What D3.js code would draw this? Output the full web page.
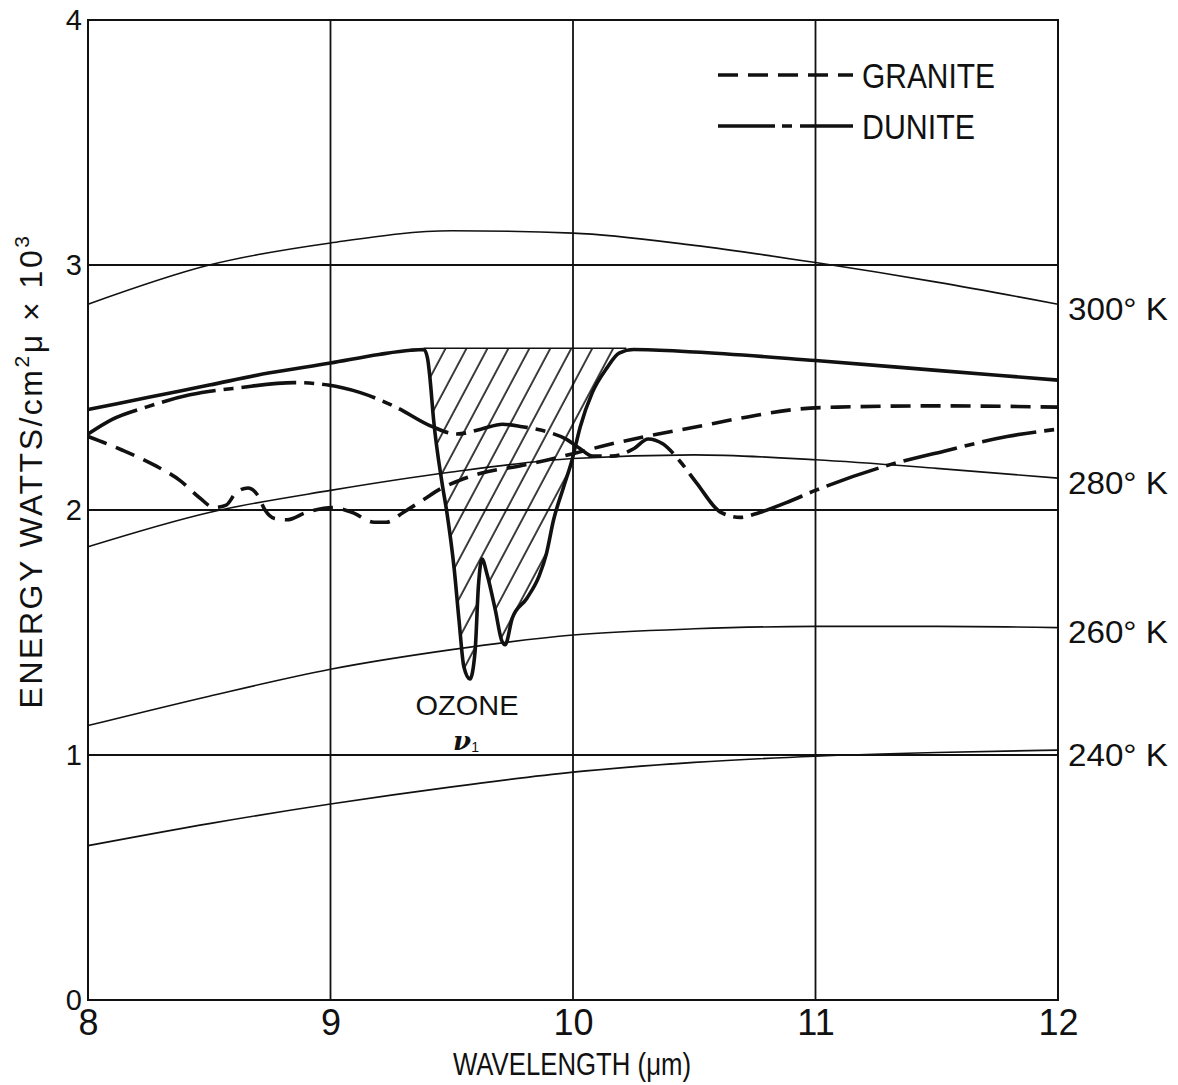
<!DOCTYPE html>
<html lang="en">
<head>
<meta charset="UTF-8">
<title>Energy vs wavelength</title>
<script src="https://cdnjs.cloudflare.com/ajax/libs/d3/7.8.5/d3.min.js"></script>
<style>
    body { margin: 0; background: #fff; }
    svg { display: block; background: #fff; }
    text { font-family: "Liberation Sans", Arial, sans-serif; fill: #111; }
</style>
</head>
<body>
<div class="chart"></div>
<script>
// blackbody curves
const bbWave = [8.0, 8.5, 9.0, 9.5, 10.0, 10.5, 11.0, 11.5, 12.0];
const bb300 = [2.84, 3.00, 3.09, 3.14, 3.13, 3.08, 3.01, 2.93, 2.84];
const bb280 = [1.85, 1.99, 2.08, 2.155, 2.21, 2.225, 2.205, 2.17, 2.13];
const bb260 = [1.12, 1.24, 1.35, 1.43, 1.49, 1.515, 1.525, 1.525, 1.52];
const bb240 = [0.63, 0.72, 0.80, 0.87, 0.93, 0.97, 0.995, 1.01, 1.02];
const bbLabels = ['300° K', '280° K', '260° K', '240° K'];

// heavy solid curve with the ozone band
const obsWave = [8.0, 8.25, 8.5, 8.75, 9.0, 9.2, 9.33, 9.385, 9.40, 9.41, 9.425, 9.46, 9.48, 9.51, 9.53, 9.55,
    9.575, 9.596, 9.61, 9.625, 9.645, 9.68, 9.705, 9.72, 9.75, 9.81, 9.86, 9.89, 9.92, 9.96, 9.995,
    10.03, 10.08, 10.14, 10.19, 10.25, 10.5, 11.0, 11.5, 12.0];
const obsVal = [2.41, 2.46, 2.51, 2.56, 2.60, 2.635, 2.652, 2.655, 2.62, 2.54, 2.37, 2.11, 1.99, 1.76, 1.55, 1.36,
    1.31, 1.42, 1.69, 1.80, 1.74, 1.59, 1.47, 1.45, 1.56, 1.64, 1.73, 1.82, 1.96, 2.09, 2.20,
    2.34, 2.48, 2.58, 2.64, 2.655, 2.645, 2.61, 2.57, 2.53];
const ozoneTop = 2.66;
const ozoneRange = [9.385, 10.22];

// granite (dashed)
const graniteWave = [8.0, 8.14, 8.28, 8.38, 8.46, 8.52, 8.57, 8.61, 8.66, 8.70, 8.73, 8.77, 8.82, 8.90, 9.01,
    9.09, 9.18, 9.23, 9.30, 9.38, 9.46, 9.53, 9.62, 9.78, 9.92, 10.0, 10.16, 10.30, 10.51, 10.72,
    10.91, 11.09, 11.5, 12.0];
const graniteVal = [2.30, 2.245, 2.18, 2.12, 2.05, 2.01, 2.02, 2.07, 2.09, 2.06, 2.00, 1.965, 1.96, 1.99, 2.01,
    1.99, 1.95, 1.95, 1.99, 2.04, 2.09, 2.12, 2.15, 2.18, 2.21, 2.23, 2.27, 2.30, 2.34, 2.38,
    2.41, 2.42, 2.425, 2.42];

// dunite (dash-dot)
const duniteWave = [8.0, 8.10, 8.24, 8.42, 8.63, 8.85, 8.99, 9.12, 9.27, 9.42, 9.52, 9.62, 9.71, 9.79, 9.89,
    9.97, 10.03, 10.08, 10.16, 10.25, 10.31, 10.37, 10.44, 10.51, 10.61, 10.69, 10.77, 10.88, 11.0,
    11.29, 11.53, 11.79, 12.0];
const duniteVal = [2.31, 2.37, 2.42, 2.47, 2.50, 2.52, 2.51, 2.48, 2.42, 2.34, 2.31, 2.33, 2.35, 2.34, 2.32,
    2.29, 2.25, 2.22, 2.22, 2.25, 2.29, 2.27, 2.20, 2.11, 1.99, 1.97, 1.99, 2.03, 2.08,
    2.18, 2.24, 2.30, 2.33];

const xTicks = [8, 9, 10, 11, 12];
const yTicks = [0, 1, 2, 3, 4];

const width = 1178, height = 1085;
const plotLeft = 88, plotRight = 1058, plotTop = 20, plotBottom = 1000;

const svg = d3.select('.chart').append('svg').attr('width', width).attr('height', height);

const x = d3.scaleLinear().domain([8, 12]).range([plotLeft, plotRight]);
const y = d3.scaleLinear().domain([0, 4]).range([plotBottom, plotTop]);

const zip = (xs, ys) => xs.map((d, i) => [d, ys[i]]);
const line = d3.line().x(d => x(d[0])).y(d => y(d[1])).curve(d3.curveMonotoneX);

// hatch pattern for the ozone band
const defs = svg.append('defs');
defs.append('pattern')
    .attr('id', 'hatch')
    .attr('patternUnits', 'userSpaceOnUse')
    .attr('width', 18.5).attr('height', 40)
    .attr('patternTransform', 'rotate(28)')
    .append('line')
    .attr('x1', 2).attr('y1', -5).attr('x2', 2).attr('y2', 45)
    .attr('stroke', '#000').attr('stroke-width', 1.5);

// grid
svg.append('g').selectAll('line').data(xTicks.slice(1, -1)).enter().append('line')
    .attr('x1', d => x(d)).attr('x2', d => x(d)).attr('y1', plotTop).attr('y2', plotBottom)
    .attr('stroke', '#111').attr('stroke-width', 1.8);
svg.append('g').selectAll('line').data(yTicks.slice(1, -1)).enter().append('line')
    .attr('x1', plotLeft).attr('x2', plotRight).attr('y1', d => y(d)).attr('y2', d => y(d))
    .attr('stroke', '#111').attr('stroke-width', 1.8);
svg.append('rect')
    .attr('x', plotLeft).attr('y', plotTop).attr('width', plotRight - plotLeft).attr('height', plotBottom - plotTop)
    .attr('fill', 'none').attr('stroke', '#111').attr('stroke-width', 2);

// axes
const xAxis = svg.append('g').attr('transform', `translate(0,${plotBottom})`)
    .call(d3.axisBottom(x).tickValues(xTicks).tickSize(0).tickPadding(9).tickFormat(d3.format('d')));
xAxis.select('.domain').remove();
xAxis.selectAll('text').attr('font-size', 36).attr('fill', '#111');

const yAxis = svg.append('g').attr('transform', `translate(${plotLeft},0)`)
    .call(d3.axisLeft(y).tickValues(yTicks).tickSize(0).tickPadding(6).tickFormat(d3.format('d')));
yAxis.select('.domain').remove();
yAxis.selectAll('text').attr('font-size', 29).attr('fill', '#111');

svg.append('text')
    .attr('x', 572).attr('y', 1075)
    .attr('text-anchor', 'middle').attr('font-size', 32)
    .attr('textLength', 238).attr('lengthAdjust', 'spacingAndGlyphs')
    .text('WAVELENGTH (μm)');

const yTitle = svg.append('text')
    .attr('transform', 'translate(42,471) rotate(-90)')
    .attr('text-anchor', 'middle').attr('font-size', 32)
    .attr('letter-spacing', 2.5);
yTitle.append('tspan').text('ENERGY WATTS/cm');
yTitle.append('tspan').attr('font-size', 21).attr('dy', -13).text('2');
yTitle.append('tspan').attr('dy', 13).text('μ  ×  10');
yTitle.append('tspan').attr('font-size', 21).attr('dy', -13).text('3');

// blackbody curves
[bb300, bb280, bb260, bb240].forEach((vals, i) => {
    svg.append('path').datum(zip(bbWave, vals)).attr('d', line)
        .attr('fill', 'none').attr('stroke', '#111').attr('stroke-width', 1.6);
    svg.append('text')
        .attr('x', plotRight + 10).attr('y', y(vals[vals.length - 1]) + 4)
        .attr('dy', '0.36em').attr('font-size', 32)
        .attr('textLength', 100).attr('lengthAdjust', 'spacingAndGlyphs')
        .text(bbLabels[i]);
});

// ozone hatch
const obsPts = zip(obsWave, obsVal);
const ozonePts = obsPts.filter(d => d[0] >= ozoneRange[0] && d[0] <= ozoneRange[1]);
ozonePts.unshift([ozoneRange[0], ozoneTop]);
ozonePts.push([ozoneRange[1], ozoneTop]);
svg.append('path').datum(ozonePts)
    .attr('d', d3.area().x(d => x(d[0])).y0(y(ozoneTop)).y1(d => y(d[1])).curve(d3.curveMonotoneX))
    .attr('fill', 'url(#hatch)').attr('stroke', 'none');
svg.append('line')
    .attr('x1', x(ozoneRange[0])).attr('x2', x(ozoneRange[1]))
    .attr('y1', y(ozoneTop)).attr('y2', y(ozoneTop))
    .attr('stroke', '#111').attr('stroke-width', 1.5);

// rock curves
svg.append('path').datum(obsPts).attr('d', line)
    .attr('fill', 'none').attr('stroke', '#111').attr('stroke-width', 3.6);
svg.append('path').datum(zip(graniteWave, graniteVal)).attr('d', line)
    .attr('fill', 'none').attr('stroke', '#111').attr('stroke-width', 3.6)
    .attr('stroke-dasharray', '20,10');
svg.append('path').datum(zip(duniteWave, duniteVal)).attr('d', line)
    .attr('fill', 'none').attr('stroke', '#111').attr('stroke-width', 3.6)
    .attr('stroke-dasharray', '55,8,10,8');

// ozone label
svg.append('text').attr('x', 467).attr('y', 715).attr('text-anchor', 'middle')
    .attr('font-size', 28).attr('textLength', 103).attr('lengthAdjust', 'spacingAndGlyphs')
    .text('OZONE');
const nu = svg.append('text').attr('x', 466).attr('y', 750).attr('text-anchor', 'middle')
    .style('font-family', '"DejaVu Serif", serif').attr('font-style', 'italic').attr('font-weight', 'bold')
    .attr('font-size', 26);
nu.append('tspan').text('ν');
nu.append('tspan').attr('font-size', 14).attr('dy', 2).style('font-family', '"Liberation Sans", sans-serif')
    .attr('font-style', 'normal').attr('font-weight', 'normal').text('1');

// legend
const legend = [
    {name: 'GRANITE', dash: '20,10', yPos: 75, len: 133},
    {name: 'DUNITE', dash: '57,7,10,8', yPos: 126, len: 113}
];
legend.forEach(l => {
    svg.append('line').attr('x1', 718).attr('x2', 853).attr('y1', l.yPos).attr('y2', l.yPos)
        .attr('stroke', '#111').attr('stroke-width', 3.6).attr('stroke-dasharray', l.dash);
    svg.append('text').attr('x', 862).attr('y', l.yPos).attr('dy', '0.36em')
        .attr('font-size', 35).attr('textLength', l.len).attr('lengthAdjust', 'spacingAndGlyphs')
        .text(l.name);
});
</script>
</body>
</html>
